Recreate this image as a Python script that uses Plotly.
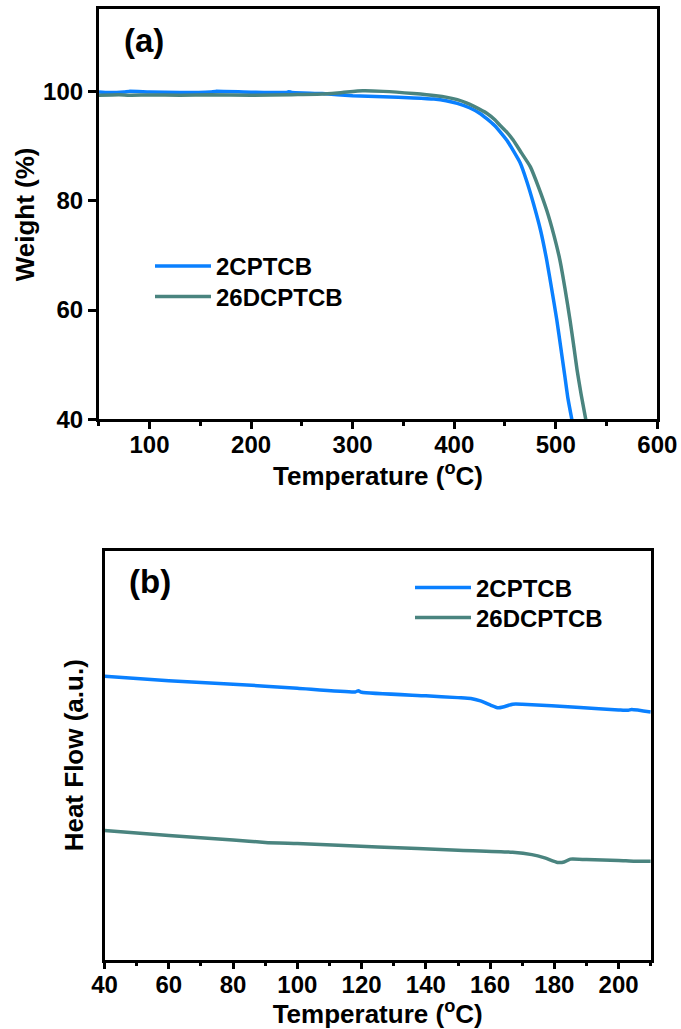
import plotly.graph_objects as go

# ---- data: (a) TGA ----
tga_names = ["2CPTCB", "26DCPTCB"]
tga_T_2cp = [50, 60, 75, 80, 100, 130, 160, 165, 200, 235, 237, 240, 270, 300, 330, 360, 380, 392,
             403, 415, 425, 432, 440, 446, 452, 458, 465, 471, 478, 485, 491, 496, 501, 505, 509,
             512, 515.8]
tga_W_2cp = [99.9, 99.8, 99.9, 100.0, 99.9, 99.8, 99.9, 100.0, 99.85, 99.8, 99.95, 99.8, 99.6, 99.2,
             99.0, 98.8, 98.6, 98.3, 97.8, 97.0, 96.0, 95.0, 93.7, 92.4, 91.0, 89.2, 86.9, 83.8,
             79.5, 74.6, 69.2, 63.8, 58.2, 53.0, 47.8, 43.8, 40.0]
tga_T_26d = [50, 70, 80, 100, 130, 160, 200, 240, 270, 290, 310, 330, 360, 382, 393, 403, 412, 420,
             432, 440, 445, 452, 458, 466, 475, 483, 491, 498, 504, 509, 514, 518, 521, 525, 529.5]
tga_W_26d = [99.3, 99.4, 99.3, 99.35, 99.3, 99.4, 99.3, 99.4, 99.5, 99.8, 100.1, 100.0, 99.6, 99.2,
             98.9, 98.5, 97.9, 97.2, 96.0, 94.8, 93.8, 92.5, 91.1, 88.8, 86.2, 82.5, 78.3, 73.8,
             69.2, 64.0, 58.2, 53.0, 49.0, 44.5, 40.0]

# ---- data: (b) DSC (arbitrary units) ----
dsc_T_2cp = [40, 60, 80, 100, 118, 119, 120, 140, 150, 154, 157, 160, 162.5, 164, 167, 170, 188,
             200, 203, 204, 210]
dsc_V_2cp = [69.3, 68.2, 67.4, 66.4, 65.5, 65.8, 65.4, 64.55, 64.1, 63.9, 63.3, 62.3, 61.6, 61.8,
             62.5, 62.5, 61.7, 61.1, 61.0, 61.2, 60.6]
dsc_T_26d = [40, 60, 80, 90, 100, 125, 150, 167, 173, 177, 181, 183, 185, 190, 200, 205, 210]
dsc_V_26d = [31.6, 30.4, 29.3, 28.7, 28.4, 27.6, 26.8, 26.3, 25.7, 24.9, 23.8, 23.9, 24.6, 24.5,
             24.3, 24.1, 24.1]

BLUE = "#0A80FF"
TEAL = "#4A847F"
FONT = "Liberation Sans, Arial, sans-serif"

def line(color):
    return dict(color=color, width=3.5, shape="spline", smoothing=0.5)

fig = go.Figure()
fig.add_trace(go.Scatter(x=tga_T_2cp, y=tga_W_2cp, mode="lines", name=tga_names[0],
                         line=line(BLUE), xaxis="x", yaxis="y", legend="legend"))
fig.add_trace(go.Scatter(x=tga_T_26d, y=tga_W_26d, mode="lines", name=tga_names[1],
                         line=line(TEAL), xaxis="x", yaxis="y", legend="legend2"))
fig.add_trace(go.Scatter(x=dsc_T_2cp, y=dsc_V_2cp, mode="lines", name=tga_names[0],
                         line=line(BLUE), xaxis="x2", yaxis="y2", legend="legend3"))
fig.add_trace(go.Scatter(x=dsc_T_26d, y=dsc_V_26d, mode="lines", name=tga_names[1],
                         line=line(TEAL), xaxis="x2", yaxis="y2", legend="legend4"))

axis_common = dict(showline=True, linecolor="black", linewidth=2.5, mirror=True,
                   showgrid=False, zeroline=False, automargin=False,
                   tickfont=dict(family=FONT, size=24, color="black", weight="bold"),
                   tickcolor="black", tickwidth=2.5)
title_font = dict(family=FONT, size=26, color="black", weight="bold")
legend_font = dict(family=FONT, size=24, color="black", weight="bold")


def leg(xpx, ytop_px):
    return dict(x=xpx / 681, y=1 - ytop_px / 1029, xanchor="left", yanchor="top", itemwidth=56,
                bgcolor="rgba(0,0,0,0)", borderwidth=0, tracegroupgap=0, font=legend_font)


fig.update_layout(
    width=681, height=1029,
    margin=dict(l=0, r=0, t=0, b=0),
    paper_bgcolor="white", plot_bgcolor="white",
    showlegend=True,
    xaxis=dict(axis_common, domain=[0.1449, 0.9653], anchor="y", range=[50, 600],
               tick0=0, dtick=100, ticks="outside", ticklen=7, ticklabelstandoff=-5,
               minor=dict(dtick=50, ticks="outside", ticklen=4, tickwidth=2.5, tickcolor="black"),
               title=dict(text="Temperature (<sup>o</sup>C)", font=title_font, standoff=0)),
    yaxis=dict(axis_common, domain=[0.5924, 0.9909], anchor="x", range=[40, 115],
               tick0=40, dtick=20, ticks="outside", ticklen=8,
               title=dict(text="Weight (%)", font=title_font, standoff=1)),
    xaxis2=dict(axis_common, domain=[0.1536, 0.9556], anchor="y2", range=[40, 210],
                tick0=40, dtick=20, ticks="outside", ticklen=7, ticklabelstandoff=-5,
                minor=dict(dtick=10, ticks="outside", ticklen=4, tickwidth=2.5, tickcolor="black"),
                title=dict(text="Temperature (<sup>o</sup>C)", font=title_font, standoff=0)),
    yaxis2=dict(axis_common, domain=[0.0673, 0.4647], anchor="x2", range=[0, 100],
                showticklabels=False, ticks="",
                title=dict(text="Heat Flow (a.u.)", font=title_font, standoff=11)),
    legend=leg(150, 244),
    legend2=leg(150, 274.5),
    legend3=leg(410, 565.5),
    legend4=leg(410, 595.5),
    annotations=[
        dict(text="(a)", x=0.082, y=0.925, xref="x domain", yref="y domain",
             xanchor="center", yanchor="middle", showarrow=False,
             font=dict(family=FONT, size=33, color="black", weight="bold")),
        dict(text="(b)", x=0.083, y=0.925, xref="x2 domain", yref="y2 domain",
             xanchor="center", yanchor="middle", showarrow=False,
             font=dict(family=FONT, size=33, color="black", weight="bold")),
    ],
)

fig.write_html("out.html")
